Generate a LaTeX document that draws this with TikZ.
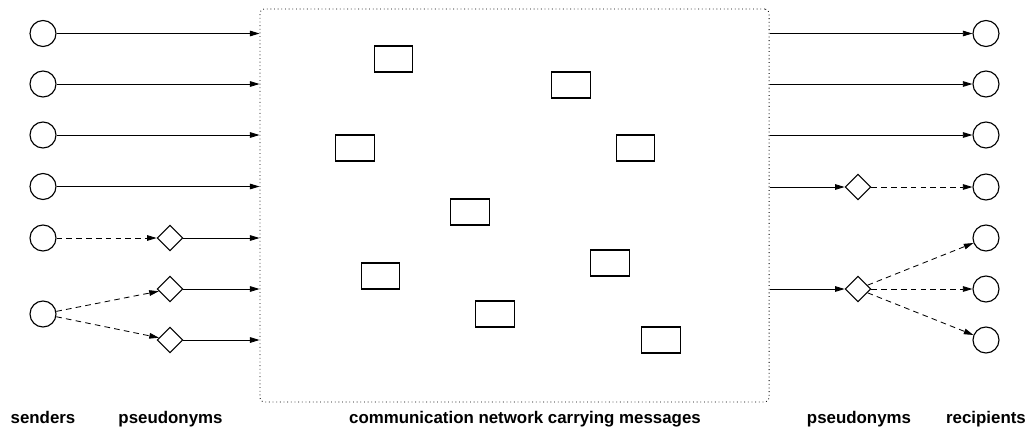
\documentclass[tikz,border=0pt]{standalone}
\usepackage{fontspec}
\setsansfont{Liberation Sans}
\usetikzlibrary{shapes.geometric}
\usetikzlibrary{arrows.meta}

\tikzset{
  party/.style={draw,circle,line width=0.8pt,minimum size=0.65cm,inner sep=0pt},
  pseudo/.style={draw,diamond,line width=0.8pt,minimum width=0.64cm,minimum height=0.64cm,inner sep=0pt},
  msg/.style={draw,line width=0.8pt,minimum width=0.97cm,minimum height=0.65cm,inner sep=0pt},
  link/.style={line width=0.6pt,-{Triangle[length=2.4mm,width=1.4mm]}},
  hidden/.style={link,dash pattern=on 4pt off 3pt},
  caption/.style={font=\sffamily\bfseries\large,inner sep=0pt,anchor=base}
}

\begin{document}
\begin{tikzpicture}[x=0.025cm,y=-0.025cm]
\useasboundingbox (0,0) rectangle (1030,429);
\node[draw,dotted,line width=0.6pt,rounded corners=3pt,minimum width=12.725cm,minimum height=9.825cm,inner sep=0pt] (net) at (514.5, 205.5) {};

\node[party] (s1) at (43, 33.5) {};
\node[party] (s2) at (43, 84) {};
\node[party] (s3) at (43, 135) {};
\node[party] (s4) at (43, 186.5) {};
\node[party] (s5) at (43, 238) {};
\node[party] (s6) at (43, 314) {};

\node[pseudo] (p1) at (170, 238) {};
\node[pseudo] (p2) at (170, 289) {};
\node[pseudo] (p3) at (170, 340) {};

\node[pseudo] (q1) at (858, 187) {};
\node[pseudo] (q2) at (858, 289) {};

\node[party] (r1) at (986, 33.5) {};
\node[party] (r2) at (986, 84) {};
\node[party] (r3) at (986, 135) {};
\node[party] (r4) at (986, 187) {};
\node[party] (r5) at (986, 238) {};
\node[party] (r6) at (986, 289) {};
\node[party] (r7) at (986, 340) {};

\node[msg] (m1) at (393.5, 59) {};
\node[msg] (m2) at (571, 85) {};
\node[msg] (m3) at (355, 148) {};
\node[msg] (m4) at (635.5, 148) {};
\node[msg] (m5) at (470, 212) {};
\node[msg] (m6) at (380.5, 276) {};
\node[msg] (m7) at (610, 263) {};
\node[msg] (m8) at (495, 314) {};
\node[msg] (m9) at (661, 340) {};

\foreach \i in {1,2,3,4}
  \draw[link] (s\i) -- (s\i -| net.west);
\foreach \i in {1,2,3}
  \draw[link] (p\i) -- (p\i -| net.west);
\draw[hidden] (s5) -- (p1);
\draw[hidden] (s6) -- (p2);
\draw[hidden] (s6) -- (p3);

\foreach \i in {1,2,3}
  \draw[link] (r\i -| net.east) -- (r\i);
\draw[link] (q1 -| net.east) -- (q1);
\draw[link] (q2 -| net.east) -- (q2);
\draw[hidden] (q1) -- (r4);
\foreach \i in {5,6,7}
  \draw[hidden] (q2) -- (r\i);

\node[caption] (l1) at (43, 423) {senders};
\node[caption] (l2) at (170.5, 423) {pseudonyms};
\node[caption] (l3) at (525, 423) {communication network carrying messages};
\node[caption] (l4) at (859, 423) {pseudonyms};
\node[caption] (l5) at (986, 423) {recipients};
\end{tikzpicture}
\end{document}
